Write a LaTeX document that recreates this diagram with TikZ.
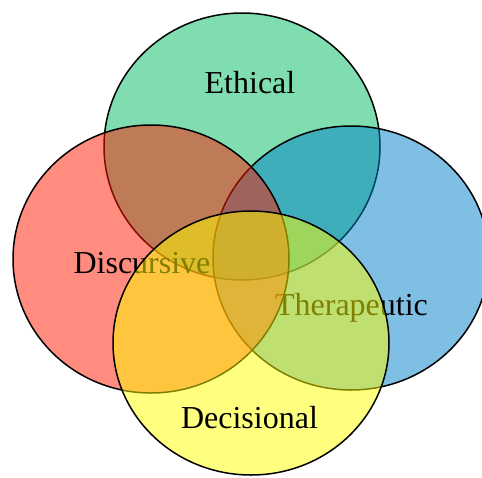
\documentclass[tikz,border=0pt]{standalone}
\usepackage{fontspec}
\setmainfont{Liberation Serif}
\definecolor{ethicalc}{RGB}{0,187,97}
\definecolor{discursivec}{RGB}{255,25,0}
\definecolor{therapeuticc}{RGB}{0,127,199}
\definecolor{decisionalc}{RGB}{255,255,0}
\tikzset{
  setfill/.style={draw=black, line width=1.5pt, fill=#1, fill opacity=0.5},
  setlabel/.style={anchor=base, inner sep=0pt, text=black,
    font=\fontsize{32}{38}\selectfont}
}
\begin{document}
\begin{tikzpicture}[x=1pt, y=-1pt]
  \clip (0,0) rectangle (482,477);
  % Ethical
  \draw[setfill=ethicalc] (242,146.5) ellipse [x radius=138pt, y radius=133.5pt];
  \node[setlabel] (ethical) at (250,93) {Ethical};
  % Therapeutic
  \draw[setfill=therapeuticc] (351,258) ellipse [x radius=138pt, y radius=132pt];
  \node[setlabel] (therapeutic) at (351.5,315) {Therapeutic};
  % Discursive
  \draw[setfill=discursivec] (151,259) ellipse [x radius=138pt, y radius=134pt];
  \node[setlabel] (discursive) at (142,273) {Discursive};
  % Decisional
  \draw[setfill=decisionalc] (251,343) ellipse [x radius=138pt, y radius=132pt];
  \node[setlabel] (decisional) at (249.5,428) {Decisional};
\end{tikzpicture}
\end{document}
